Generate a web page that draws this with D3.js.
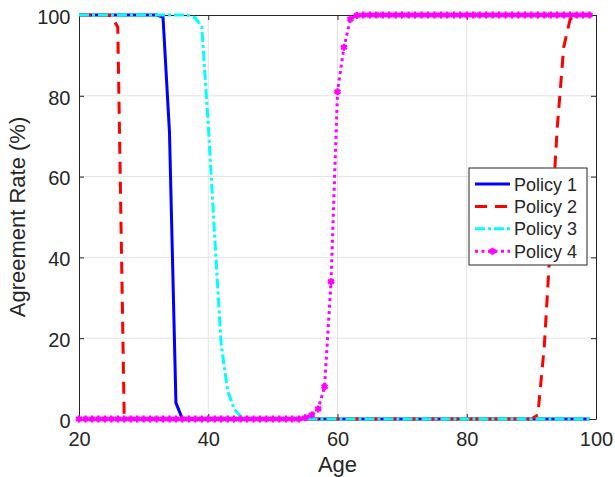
<!DOCTYPE html>
<html>
<head>
<meta charset="utf-8">
<script src="https://cdn.jsdelivr.net/npm/d3@7"></script>
<style>
    body { margin: 0; background: #fff; }
    text { font-family: "Liberation Sans", Arial, Helvetica, sans-serif; fill: #262626; }
</style>
</head>
<body>
<div class="chart"></div>
<script>

// Ages sampled once a year
var ages = [20, 21, 22, 23, 24, 25, 26, 27, 28, 29,
            30, 31, 32, 33, 34, 35, 36, 37, 38, 39,
            40, 41, 42, 43, 44, 45, 46, 47, 48, 49,
            50, 51, 52, 53, 54, 55, 56, 57, 58, 59,
            60, 61, 62, 63, 64, 65, 66, 67, 68, 69,
            70, 71, 72, 73, 74, 75, 76, 77, 78, 79,
            80, 81, 82, 83, 84, 85, 86, 87, 88, 89,
            90, 91, 92, 93, 94, 95, 96, 97, 98, 99];

var policy1 = [100, 100, 100, 100, 100, 100, 100, 100, 100, 100,
               100, 100, 100, 99.5, 71, 4, 0, 0, 0, 0,
               0, 0, 0, 0, 0, 0, 0, 0, 0, 0,
               0, 0, 0, 0, 0, 0, 0, 0, 0, 0,
               0, 0, 0, 0, 0, 0, 0, 0, 0, 0,
               0, 0, 0, 0, 0, 0, 0, 0, 0, 0,
               0, 0, 0, 0, 0, 0, 0, 0, 0, 0,
               0, 0, 0, 0, 0, 0, 0, 0, 0, 0];

var policy2 = [100, 100, 100, 100, 100, 99.8, 97, 0, 0, 0,
               0, 0, 0, 0, 0, 0, 0, 0, 0, 0,
               0, 0, 0, 0, 0, 0, 0, 0, 0, 0,
               0, 0, 0, 0, 0, 0, 0, 0, 0, 0,
               0, 0, 0, 0, 0, 0, 0, 0, 0, 0,
               0, 0, 0, 0, 0, 0, 0, 0, 0, 0,
               0, 0, 0, 0, 0, 0, 0, 0, 0, 0,
               0, 1, 18, 45, 72, 92, 99, 99.8, 100, 100];

var policy3 = [100, 100, 100, 100, 100, 100, 100, 100, 100, 100,
               100, 100, 100, 100, 100, 100, 100, 99.9, 99.3, 97,
               73, 45, 18.5, 7, 2.5, 0.7, 0.2, 0, 0, 0,
               0, 0, 0, 0, 0, 0, 0, 0, 0, 0,
               0, 0, 0, 0, 0, 0, 0, 0, 0, 0,
               0, 0, 0, 0, 0, 0, 0, 0, 0, 0,
               0, 0, 0, 0, 0, 0, 0, 0, 0, 0,
               0, 0, 0, 0, 0, 0, 0, 0, 0, 0];

var policy4 = [0, 0, 0, 0, 0, 0, 0, 0, 0, 0,
               0, 0, 0, 0, 0, 0, 0, 0, 0, 0,
               0, 0, 0, 0, 0, 0, 0, 0, 0, 0,
               0, 0, 0, 0, 0, 0.3, 1, 2.5, 8, 34,
               81, 92, 99, 99.9, 100, 100, 100, 100, 100, 100,
               100, 100, 100, 100, 100, 100, 100, 100, 100, 100,
               100, 100, 100, 100, 100, 100, 100, 100, 100, 100,
               100, 100, 100, 100, 100, 100, 100, 100, 100, 100];

var seriesNames = ["Policy 1", "Policy 2", "Policy 3", "Policy 4"];
var xTicks = [20, 40, 60, 80, 100];
var yTicks = [0, 20, 40, 60, 80, 100];

var width = 615, height = 477;
var margin = {left: 79, right: 19, top: 15, bottom: 58};

// Line styles, one per policy
var styles = [
    {color: "#0000ff", dash: null, marker: false},
    {color: "#ff0000", dash: "12,8", marker: false},
    {color: "#00ffff", dash: "10,3,3,3", marker: false},
    {color: "#ff00ff", dash: "3,3.5", marker: true}
];

var series = [policy1, policy2, policy3, policy4].map(function(vals, i) {
    return {
        name: seriesNames[i],
        style: styles[i],
        values: ages.map(function(a, j) { return {age: a, value: vals[j]}; })
    };
});

var x = d3.scaleLinear().domain([20, 100]).range([margin.left, width - margin.right]);
var y = d3.scaleLinear().domain([0, 100]).range([height - margin.bottom, margin.top]);

var svg = d3.select(".chart")
    .append("svg")
        .attr("width", width)
        .attr("height", height);

svg.append("rect")
    .attr("width", width)
    .attr("height", height)
    .attr("fill", "#fff");

// Grid lines
svg.append("g")
    .selectAll("line")
    .data(xTicks.slice(1, -1))
    .enter()
    .append("line")
    .attr("x1", function(d) { return x(d); })
    .attr("x2", function(d) { return x(d); })
    .attr("y1", y(0))
    .attr("y2", y(100))
    .attr("stroke", "#e3e3e3");

svg.append("g")
    .selectAll("line")
    .data(yTicks.slice(1, -1))
    .enter()
    .append("line")
    .attr("x1", x(20))
    .attr("x2", x(100))
    .attr("y1", function(d) { return y(d); })
    .attr("y2", function(d) { return y(d); })
    .attr("stroke", "#e3e3e3");

// Axes (ticks point inward, box on all four sides)
function styleAxis(g) {
    g.selectAll(".domain").attr("stroke", "#262626");
    g.selectAll(".tick line").attr("stroke", "#262626");
    g.selectAll(".tick text").style("font-size", "20px").attr("fill", "#262626");
}

svg.append("g")
    .attr("transform", "translate(0," + y(0) + ")")
    .call(d3.axisBottom(x).tickValues(xTicks).tickSizeInner(-5).tickSizeOuter(0).tickPadding(12.5))
    .call(styleAxis);

svg.append("g")
    .attr("transform", "translate(" + x(20) + ",0)")
    .call(d3.axisLeft(y).tickValues(yTicks).tickSizeInner(-5).tickSizeOuter(0).tickPadding(8.5))
    .call(styleAxis)
    .selectAll(".tick text").attr("dy", "0.41em");

svg.append("g")
    .attr("transform", "translate(0," + y(100) + ")")
    .call(d3.axisTop(x).tickValues(xTicks).tickSizeInner(-5).tickSizeOuter(0).tickFormat(""))
    .call(styleAxis);

svg.append("g")
    .attr("transform", "translate(" + x(100) + ",0)")
    .call(d3.axisRight(y).tickValues(yTicks).tickSizeInner(-5).tickSizeOuter(0).tickFormat(""))
    .call(styleAxis);

// Axis labels
svg.append("text")
    .attr("x", (x(20) + x(100)) / 2)
    .attr("y", 472)
    .attr("text-anchor", "middle")
    .style("font-size", "22px")
    .text("Age");

svg.append("text")
    .attr("transform", "translate(25," + (y(0) + y(100)) / 2 + ") rotate(-90)")
    .attr("text-anchor", "middle")
    .style("font-size", "22px")
    .text("Agreement Rate (%)");

// Lines
var line = d3.line()
    .x(function(d) { return x(d.age); })
    .y(function(d) { return y(d.value); });

var marker = d3.symbol().type(d3.symbolAsterisk).size(34);

series.forEach(function(s) {
    svg.append("path")
        .datum(s.values)
        .attr("d", line)
        .attr("fill", "none")
        .attr("stroke", s.style.color)
        .attr("stroke-width", 3)
        .attr("stroke-dasharray", s.style.dash);

    if (s.style.marker) {
        svg.append("g")
            .selectAll("path")
            .data(s.values)
            .enter()
            .append("path")
            .attr("d", marker)
            .attr("transform", function(d) { return "translate(" + x(d.age) + "," + y(d.value) + ")"; })
            .attr("fill", "none")
            .attr("stroke", s.style.color)
            .attr("stroke-width", 2.4);
    }
});

// Legend
var legend = svg.append("g")
    .attr("transform", "translate(469,168)");

legend.append("rect")
    .attr("width", 118)
    .attr("height", 97)
    .attr("fill", "#fff")
    .attr("stroke", "#262626");

var rows = legend.selectAll(".row")
    .data(series)
    .enter()
    .append("g")
    .attr("class", "row")
    .attr("transform", function(d, i) { return "translate(0," + (16 + i * 22.4) + ")"; });

rows.append("line")
    .attr("x1", 6)
    .attr("x2", 41)
    .attr("stroke", function(d) { return d.style.color; })
    .attr("stroke-width", 3)
    .attr("stroke-dasharray", function(d) { return d.style.dash; });

rows.filter(function(d) { return d.style.marker; })
    .append("path")
    .attr("d", marker)
    .attr("transform", "translate(23.5,0)")
    .attr("fill", "none")
    .attr("stroke", function(d) { return d.style.color; })
    .attr("stroke-width", 2.4);

rows.append("text")
    .attr("x", 45)
    .attr("y", 6.5)
    .style("font-size", "18px")
    .text(function(d) { return d.name; });

</script>
</body>
</html>
